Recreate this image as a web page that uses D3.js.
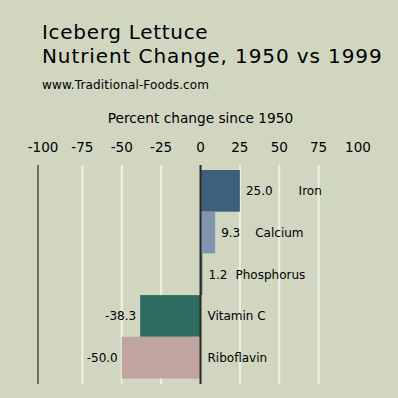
<!DOCTYPE html>
<html>
<head>
<meta charset="utf-8">
<script src="https://cdn.jsdelivr.net/npm/d3@7"></script>
<style>
  body { margin: 0; background: #d1d6c0; }
  svg { display: block; }
  text { font-family: "DejaVu Sans", sans-serif; fill: #000; }
</style>
</head>
<body>
<div id="chart"></div>
<script>
(function() {
  // data
  var nutrients = ["Iron", "Calcium", "Phosphorus", "Vitamin C", "Riboflavin"];
  var changes = [25.0, 9.3, 1.2, -38.3, -50.0];
  var barColors = ["#3e607a", "#8196ae", "#4f6f66", "#2f6b60", "#c0a49f"];
  var tickValues = [-100, -75, -50, -25, 0, 25, 50, 75, 100];
  var gridValues = [-75, -50, -25, 25, 50, 75];

  var width = 398, height = 398;
  // space between value label and name label (positive bars)
  var nameGap = [26, 15, 8, 0, 0];

  var svg = d3.select("#chart")
    .append("svg")
    .attr("width", width)
    .attr("height", height);

  svg.append("rect")
    .attr("width", width)
    .attr("height", height)
    .attr("fill", "#d1d6c0");

  var x = d3.scaleLinear().domain([-100, 100]).range([43, 358]);
  var y = d3.scaleBand().domain(nutrients).range([170, 378.5]).padding(0);

  var top = 165, bottom = 384;

  // titles
  svg.append("text").attr("x", 42).attr("y", 39)
    .style("font-size", "20px").style("letter-spacing", "0.7px")
    .text("Iceberg Lettuce");
  svg.append("text").attr("x", 42).attr("y", 63)
    .style("font-size", "20px").style("letter-spacing", "0.9px")
    .text("Nutrient Change, 1950 vs 1999");
  svg.append("text").attr("x", 42).attr("y", 89)
    .style("font-size", "12px").style("letter-spacing", "0.15px")
    .text("www.Traditional-Foods.com");
  svg.append("text").attr("x", x(0)).attr("y", 123)
    .attr("text-anchor", "middle")
    .style("font-size", "13.7px")
    .text("Percent change since 1950");

  // tick labels
  svg.selectAll(".tick-label")
    .data(tickValues)
    .enter().append("text")
    .attr("class", "tick-label")
    .attr("x", function(d) { return x(d); })
    .attr("y", 152)
    .attr("text-anchor", "middle")
    .style("font-size", "13.5px")
    .text(function(d) { return d; });

  // grid lines
  svg.selectAll(".grid")
    .data(gridValues)
    .enter().append("line")
    .attr("class", "grid")
    .attr("x1", function(d) { return x(d); })
    .attr("x2", function(d) { return x(d); })
    .attr("y1", top)
    .attr("y2", bottom)
    .attr("stroke", "#eef0e6")
    .attr("stroke-width", 2);

  // left frame line
  svg.append("line")
    .attr("x1", 38).attr("x2", 38)
    .attr("y1", top).attr("y2", bottom)
    .attr("stroke", "#6a6f60")
    .attr("stroke-width", 2);

  // bars
  svg.selectAll(".bar")
    .data(changes)
    .enter().append("rect")
    .attr("class", "bar")
    .attr("x", function(d) { return x(Math.min(0, d)); })
    .attr("y", function(d, i) { return y(nutrients[i]); })
    .attr("width", function(d) { return Math.abs(x(d) - x(0)); })
    .attr("height", y.bandwidth())
    .attr("fill", function(d, i) { return barColors[i]; });

  // zero line
  svg.append("line")
    .attr("x1", x(0)).attr("x2", x(0))
    .attr("y1", top).attr("y2", bottom)
    .attr("stroke", "#2a2a2a")
    .attr("stroke-width", 2);

  // labels
  changes.forEach(function(d, i) {
    var cy = y(nutrients[i]) + y.bandwidth() / 2 + 4.5;
    if (d >= 0) {
      var v = svg.append("text")
        .attr("x", x(d) + 6)
        .attr("y", cy)
        .style("font-size", "12px")
        .text(d.toFixed(1));
      var w = v.node().getComputedTextLength();
      svg.append("text")
        .attr("x", x(d) + 6 + w + nameGap[i])
        .attr("y", cy)
        .style("font-size", "12px")
        .text(nutrients[i]);
    } else {
      svg.append("text")
        .attr("x", x(d) - 4)
        .attr("y", cy)
        .attr("text-anchor", "end")
        .style("font-size", "12px")
        .text(d.toFixed(1));
      svg.append("text")
        .attr("x", x(0) + 7)
        .attr("y", cy)
        .style("font-size", "12px")
        .text(nutrients[i]);
    }
  });
})();
</script>
</body>
</html>
